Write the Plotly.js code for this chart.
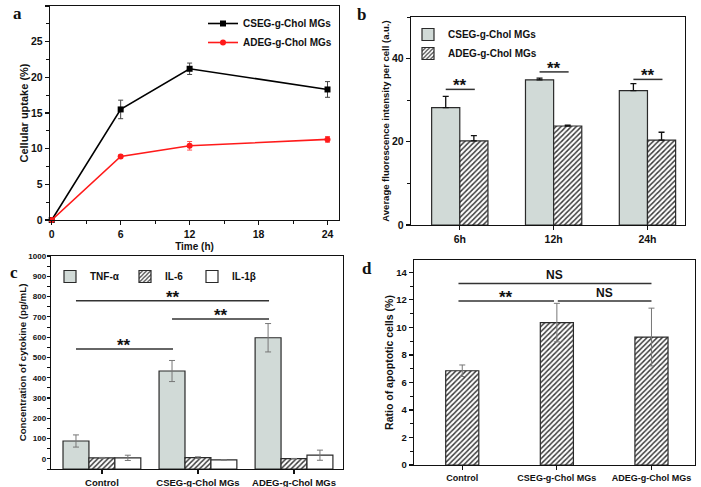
<!DOCTYPE html>
<html>
<head>
<meta charset="utf-8">
<script src="https://cdn.plot.ly/plotly-3.0.1.min.js"></script>
<style>html,body{margin:0;padding:0;background:#fff;}#chart{width:701px;height:487px;}</style>
</head>
<body>
<div id="chart"></div>
<script>
// ---------- Panel a: cellular uptake vs time ----------
const timeH = [0, 6, 12, 24];
const csegUptake = [0, 15.5, 21.2, 18.3];
const csegUptakeErr = [0, 1.3, 0.8, 1.1];
const adegUptake = [0, 8.9, 10.4, 11.3];
const adegUptakeErr = [0, 0.2, 0.6, 0.4];

// ---------- Panel b: fluorescence intensity ----------
const timeCats = ['6h', '12h', '24h'];
const csegFluor = [28.2, 34.9, 32.3];
const csegFluorErr = [2.7, 0.4, 1.7];
const adegFluor = [20.2, 23.8, 20.4];
const adegFluorErr = [1.3, 0.2, 1.9];
const sigBLevel = [32.6, 36.8, 35.0];
const sigBLabel = ['**', '**', '**'];

// ---------- Panel c: cytokines ----------
const groups = ['Control', 'CSEG-g-Chol MGs', 'ADEG-g-Chol MGs'];
const tnf = [88, 433, 597];
const tnfErr = [30, 52, 70];
const il6 = [5, 6, 1];
const il6Err = [2, 4, 1];
const il1b = [5, -5, 18];
const il1bErr = [13, 1, 25];
const cBaseline = -50;
const sigCFrom = [0, 1, 0];
const sigCTo = [2, 2, 1];
const sigCLevel = [780, 690, 541];
const sigCLabel = ['**', '**', '**'];

// ---------- Panel d: apoptotic cells ----------
const apoptosis = [6.85, 10.35, 9.3];
const apoptosisErr = [0.42, 1.4, 2.1];
const sigDFrom = [0, 0, 1.05];
const sigDTo = [2, 0.97, 2];
const sigDLevel = [13.2, 11.92, 11.92];
const sigDLabel = ['NS', '**', 'NS'];

// ---------- styles ----------
const FAM = 'Liberation Sans, Arial, sans-serif';
const bold = (size, color) => ({family: FAM, size: size, color: color || '#111', weight: 'bold'});
const GRAY_FILL = '#d1dad7';
const OUTLINE = {color: '#2a2a2a', width: 1.2};
const HATCH = {shape: '/', fgcolor: '#3a3a3a', bgcolor: '#ffffff', size: 3.6, solidity: 0.4};

const traces = [];
// a
traces.push({
  x: timeH, y: csegUptake, xaxis: 'x', yaxis: 'y', type: 'scatter', mode: 'lines+markers',
  name: 'CSEG-g-Chol MGs', legend: 'legend', cliponaxis: false,
  line: {color: '#000', width: 1.6}, marker: {symbol: 'square', size: 6, color: '#000'},
  error_y: {type: 'data', array: csegUptakeErr, color: '#444', thickness: 1, width: 2.5}
});
traces.push({
  x: timeH, y: adegUptake, xaxis: 'x', yaxis: 'y', type: 'scatter', mode: 'lines+markers',
  name: 'ADEG-g-Chol MGs', legend: 'legend', cliponaxis: false,
  line: {color: '#ff1a1a', width: 1.6}, marker: {symbol: 'circle', size: 6, color: '#ff1a1a'},
  error_y: {type: 'data', array: adegUptakeErr, color: '#ff5555', thickness: 1, width: 2.5}
});
// b
const bW = 0.3;
traces.push({
  x: timeCats, y: csegFluor, xaxis: 'x2', yaxis: 'y2', type: 'bar', name: 'CSEG-g-Chol MGs',
  legend: 'legend2', width: bW, offset: -bW,
  marker: {color: GRAY_FILL, line: OUTLINE},
  error_y: {type: 'data', symmetric: false, array: csegFluorErr, arrayminus: csegFluorErr.map(() => 0), color: '#111', thickness: 1.3, width: 3}
});
traces.push({
  x: timeCats, y: adegFluor, xaxis: 'x2', yaxis: 'y2', type: 'bar', name: 'ADEG-g-Chol MGs',
  legend: 'legend2', width: bW, offset: 0,
  marker: {color: '#fff', line: OUTLINE, pattern: HATCH},
  error_y: {type: 'data', symmetric: false, array: adegFluorErr, arrayminus: adegFluorErr.map(() => 0), color: '#111', thickness: 1.3, width: 3}
});
// c
const cW = 0.27;
const cSeries = [
  {name: 'TNF-α', v: tnf, e: tnfErr, marker: {color: GRAY_FILL, line: OUTLINE}, lw: 30},
  {name: 'IL-6', v: il6, e: il6Err, marker: {color: '#fff', line: OUTLINE, pattern: HATCH}, lw: 22},
  {name: 'IL-1β', v: il1b, e: il1bErr, marker: {color: '#fff', line: OUTLINE}, lw: 30}
];
cSeries.forEach((s, k) => {
  traces.push({
    x: groups, y: s.v.map(v => v - cBaseline), base: cBaseline, xaxis: 'x3', yaxis: 'y3', type: 'bar',
    name: s.name, legend: 'legend3', legendwidth: s.lw, width: cW, offset: -1.5 * cW + k * cW,
    marker: s.marker,
    error_y: {type: 'data', array: s.e, color: '#777', thickness: 1, width: 3}
  });
});
// d
const dW = 0.35;
traces.push({
  x: groups, y: apoptosis, xaxis: 'x4', yaxis: 'y4', type: 'bar', showlegend: false,
  width: dW, offset: -dW / 2,
  marker: {color: '#fff', line: OUTLINE, pattern: HATCH},
  error_y: {type: 'data', array: apoptosisErr, color: '#777', thickness: 1, width: 3}
});

// ---------- significance brackets ----------
const shapes = [];
const annotations = [];
const lineStyle = {color: '#333', width: 1.5};
function bracket(xr, yr, x0, x1, y, label, size, shift) {
  shapes.push({type: 'line', xref: xr, yref: yr, x0: x0, x1: x1, y0: y, y1: y, line: lineStyle});
  annotations.push({xref: xr, yref: yr, x: (x0 + x1) / 2, y: y, text: label, showarrow: false,
    yanchor: 'bottom', yshift: shift, font: bold(size)});
}
sigBLevel.forEach((lv, i) => bracket('x2', 'y2', i - 0.15, i + 0.16, lv, sigBLabel[i], 17, -8));
const tnfCenter = -1.5 * cW + cW / 2;
sigCLevel.forEach((lv, i) => bracket('x3', 'y3', sigCFrom[i] + tnfCenter, sigCTo[i] + tnfCenter + 0.01, lv, sigCLabel[i], 17, -8));
sigDLevel.forEach((lv, i) => bracket('x4', 'y4', sigDFrom[i] - 0.04, sigDTo[i], lv, sigDLabel[i],
  sigDLabel[i] === 'NS' ? 12 : 17, sigDLabel[i] === 'NS' ? -1 : -8));

// panel letters
[['a', 17, 14], ['b', 361, 15], ['c', 14, 272], ['d', 367, 268]].forEach(p => {
  annotations.push({xref: 'paper', yref: 'paper', x: p[1] / 701, y: 1 - p[2] / 487, text: p[0],
    showarrow: false, xanchor: 'center', yanchor: 'middle',
    font: {family: 'Liberation Serif, Times New Roman, serif', size: 17, color: '#111', weight: 'bold'}});
});

// ---------- axes ----------
const px = v => v / 701, py = v => 1 - v / 487;
function ax(extra) {
  return Object.assign({
    showline: true, mirror: true, linecolor: '#111', linewidth: 1.3,
    ticks: 'outside', ticklen: 4, tickwidth: 1.2, tickcolor: '#111',
    showgrid: false, zeroline: false, fixedrange: true
  }, extra);
}
const minorStyle = {ticks: 'outside', ticklen: 2.5, tickwidth: 1, tickcolor: '#111', showgrid: false};

const layout = {
  width: 701, height: 487,
  margin: {l: 0, r: 0, t: 0, b: 0},
  paper_bgcolor: '#fff', plot_bgcolor: '#fff',
  showlegend: true,
  font: bold(10),
  xaxis: ax({domain: [px(50), px(339)], anchor: 'y', range: [-0.15, 25], tickvals: [0, 6, 12, 18, 24],
    minor: Object.assign({dtick: 3, tick0: 0}, minorStyle), tickfont: bold(10.5),
    title: {text: 'Time (h)', font: bold(10), standoff: 4}}),
  yaxis: ax({domain: [py(220), py(6)], anchor: 'x', range: [0, 30], dtick: 5,
    minor: Object.assign({dtick: 2.5, tick0: 0}, minorStyle), tickfont: bold(10.5),
    title: {text: 'Cellular uptake (%)', font: bold(11), standoff: 0}}),
  xaxis2: ax({domain: [px(411), px(685)], anchor: 'y2', type: 'category', range: [-0.52, 2.4], tickfont: bold(10.5)}),
  yaxis2: ax({domain: [py(225), py(17)], anchor: 'x2', range: [0, 50], dtick: 20, tickfont: bold(10.5),
    minor: Object.assign({dtick: 10}, minorStyle),
    title: {text: 'Average fluorescence intensity per cell (a.u.)', font: bold(9.5), standoff: 0}}),
  xaxis3: ax({domain: [px(51), px(343)], anchor: 'y3', type: 'category', range: [-0.53, 2.51], tickfont: bold(9.5)}),
  yaxis3: ax({domain: [py(469), py(256)], anchor: 'x3', range: [-50, 1000], dtick: 100, tick0: 0, tickfont: bold(8),
    ticklen: 3, ticklabelstandoff: -1,
    minor: Object.assign({dtick: 50, tick0: 0}, minorStyle),
    title: {text: 'Concentration of cytokine (pg/mL)', font: bold(9.7), standoff: 0}}),
  xaxis4: ax({domain: [px(414), px(695)], anchor: 'y4', type: 'category', range: [-0.51, 2.46], tickfont: bold(9)}),
  yaxis4: ax({domain: [py(465), py(260)], anchor: 'x4', range: [0, 14.9], dtick: 2, tickfont: bold(9.5),
    minor: Object.assign({dtick: 1, tick0: 0}, minorStyle),
    title: {text: 'Ratio of apoptotic cells (%)', font: bold(10.5), standoff: 0}}),
  legend: {x: px(203), y: py(9), xanchor: 'left', yanchor: 'top', bgcolor: 'rgba(0,0,0,0)',
    font: bold(10), itemwidth: 30, tracegroupgap: 0},
  legend2: {x: px(408), y: py(20), xanchor: 'left', yanchor: 'top', bgcolor: 'rgba(0,0,0,0)',
    font: bold(10), itemwidth: 30},
  legend3: {x: px(50), y: py(262), xanchor: 'left', yanchor: 'top', bgcolor: 'rgba(0,0,0,0)',
    orientation: 'h', font: bold(10), itemwidth: 30},
  shapes: shapes,
  annotations: annotations
};

Plotly.newPlot('chart', traces, layout, {staticPlot: true, displayModeBar: false});
</script>
</body>
</html>
